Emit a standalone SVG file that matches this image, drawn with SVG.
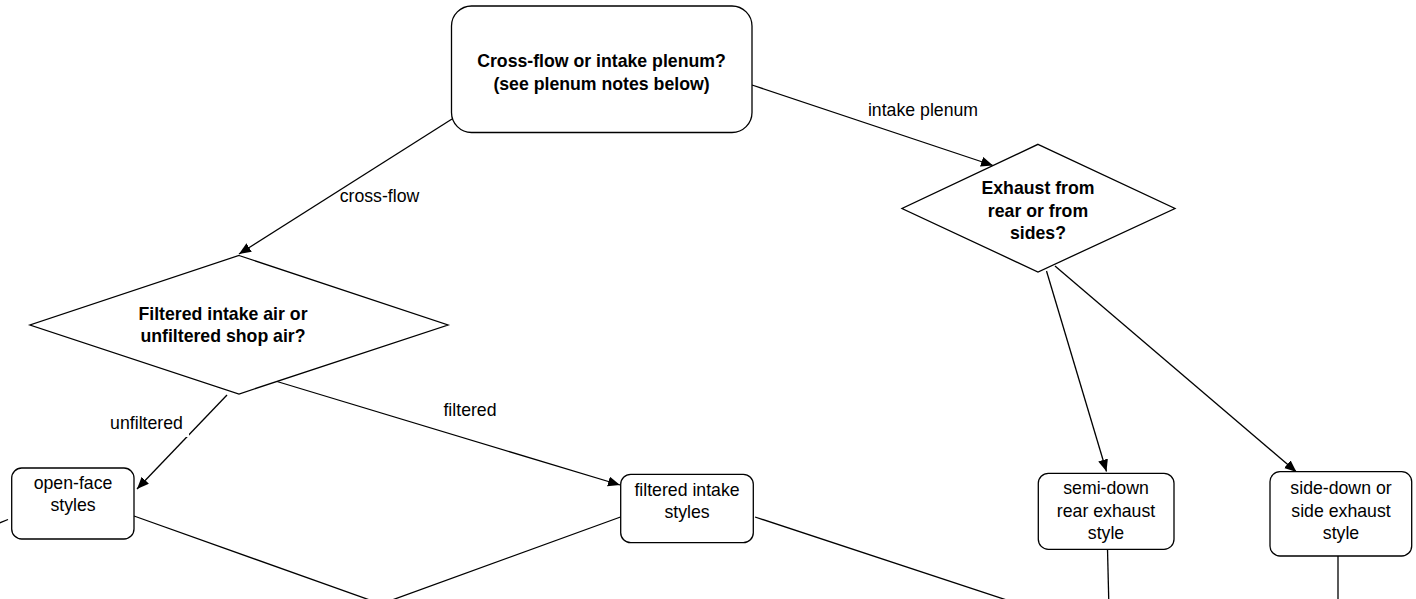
<svg xmlns="http://www.w3.org/2000/svg" width="1416" height="599" viewBox="0 0 1416 599">
<defs>
<style>
.node{fill:#fff;stroke:#000;stroke-width:1.3}
.edge{fill:none;stroke:#000;stroke-width:1.3}
.t{font-family:"Liberation Sans",Arial,sans-serif;font-size:17.7px;fill:#000;text-anchor:middle}
.b{font-weight:bold}
</style>
<marker id="arr" markerUnits="userSpaceOnUse" markerWidth="14" markerHeight="12" refX="12" refY="5" orient="auto" viewBox="0 0 14 12">
<path d="M0,0 L12,5 L0,10 Z" fill="#000"/>
</marker>
</defs>
<rect width="1416" height="599" fill="#fff"/>
<g id="connectors">
<line class="edge" x1="452" y1="119" x2="239" y2="254" marker-end="url(#arr)"/>
<line class="edge" x1="752" y1="85" x2="993" y2="165.5" marker-end="url(#arr)"/>
<line class="edge" x1="227" y1="395" x2="137" y2="489" marker-end="url(#arr)"/>
<line class="edge" x1="277" y1="381.5" x2="620" y2="485" marker-end="url(#arr)"/>
<line class="edge" x1="1046.5" y1="271" x2="1106.5" y2="471.5" marker-end="url(#arr)"/>
<line class="edge" x1="1055" y1="266" x2="1296.5" y2="472" marker-end="url(#arr)"/>
<line class="edge" x1="134" y1="516" x2="381" y2="604"/>
<line class="edge" x1="620.5" y1="517" x2="381" y2="604"/>
<line class="edge" x1="755" y1="517" x2="1040" y2="611"/>
<line class="edge" x1="1107.5" y1="549" x2="1109" y2="610"/>
<line class="edge" x1="1338" y1="556" x2="1338" y2="610"/>
<line class="edge" x1="-20" y1="531" x2="8" y2="519.5"/>
<text class="t" x="379.5" y="202">cross-flow</text>
<text class="t" x="923" y="116">intake plenum</text>
<rect x="107" y="413" width="82" height="24" fill="#fff"/>
<text class="t" x="146.5" y="429">unfiltered</text>
<text class="t" x="470" y="416">filtered</text>
</g>
<g id="n_top">
<rect class="node" x="451.5" y="6" width="300.5" height="126.5" rx="20" ry="20"/>
<text class="t b" x="601.5" y="66.5">Cross-flow or intake plenum?</text>
<text class="t b" x="601.5" y="90">(see plenum notes below)</text>
</g>
<g id="n_filter_q">
<polygon class="node" points="239,255.5 448,325 239,394 30,325"/>
<text class="t b" x="223" y="320">Filtered intake air or</text>
<text class="t b" x="223" y="342">unfiltered shop air?</text>
</g>
<g id="n_exhaust_q">
<polygon class="node" points="1038,144.3 1175,208.5 1038,272 902,208.5"/>
<text class="t b" x="1038" y="194">Exhaust from</text>
<text class="t b" x="1038" y="216.5">rear or from</text>
<text class="t b" x="1038" y="239">sides?</text>
</g>
<g id="n_openface">
<rect class="node" x="11.7" y="468" width="122.3" height="71" rx="10" ry="10"/>
<text class="t" x="73" y="489">open-face</text>
<text class="t" x="73" y="511">styles</text>
</g>
<g id="n_filtered">
<rect class="node" x="620.7" y="474.3" width="132.6" height="68.4" rx="10" ry="10"/>
<text class="t" x="687" y="495.5">filtered intake</text>
<text class="t" x="687" y="518">styles</text>
</g>
<g id="n_semidown">
<rect class="node" x="1038.3" y="473.3" width="135.7" height="76" rx="10" ry="10"/>
<text class="t" x="1106" y="494">semi-down</text>
<text class="t" x="1106" y="516.5">rear exhaust</text>
<text class="t" x="1106" y="539">style</text>
</g>
<g id="n_sidedown">
<rect class="node" x="1270" y="471.7" width="141.7" height="84.3" rx="10" ry="10"/>
<text class="t" x="1341" y="494">side-down or</text>
<text class="t" x="1341" y="516.5">side exhaust</text>
<text class="t" x="1341" y="539">style</text>
</g>
</svg>
